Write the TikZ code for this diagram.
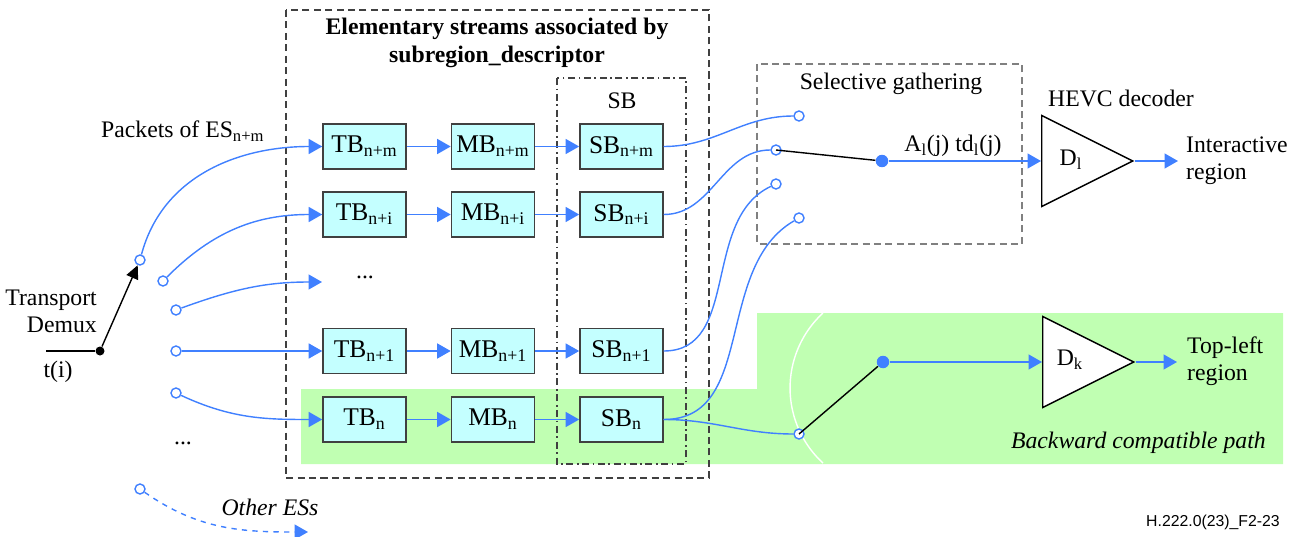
\documentclass[tikz,border=0pt]{standalone}
\usepackage{fontspec}
\setmainfont{Liberation Serif}
\newfontfamily\figfont{Liberation Sans}
\usetikzlibrary{arrows.meta,shapes.geometric,positioning}

\definecolor{esblue}{RGB}{64,128,255}
\definecolor{bufcyan}{RGB}{196,255,255}
\definecolor{pathgreen}{RGB}{192,255,178}
\newcommand{\figsize}{\fontsize{13.5}{15.5}\selectfont}

\tikzset{
  buf/.style={draw=black!75, line width=0.9pt, fill=bufcyan, minimum width=1.66cm,
    minimum height=0.9cm, inner sep=0pt, font=\fontsize{14.5}{16}\selectfont},
  flow/.style={-{Triangle[length=0.27cm,width=0.3cm]}, esblue, line width=0.8pt},
  wire/.style={esblue, line width=0.8pt},
  port/.style={circle, draw=esblue, fill=white, line width=0.8pt, minimum size=0.2cm, inner sep=0pt},
  joint/.style={circle, fill=esblue, minimum size=0.25cm, inner sep=0pt},
  lever/.style={black, line width=0.8pt},
  decoder/.style={isosceles triangle, isosceles triangle stretches, draw, fill=white,
    line width=0.8pt, minimum width=1.82cm, minimum height=1.82cm, inner sep=0pt, anchor=west},
  grpbox/.style={draw=black!75, line width=0.8pt, dash pattern=on 4pt off 2.5pt},
  sbbox/.style={draw=black!75, line width=0.8pt, dash pattern=on 4pt off 2pt on 1pt off 2pt},
  selbox/.style={draw=black!50, line width=0.8pt, dash pattern=on 4pt off 2.5pt}
}

\begin{document}
\begin{tikzpicture}[%
    x=0.02cm, y=0.02cm,
    >={Triangle[length=0.27cm,width=0.3cm]},
    node distance=2.57cm,
    on grid,
    font=\figsize
  ]
  \useasboundingbox (0,0) rectangle (1295,-537);

  % backward compatible path
  \fill[pathgreen] (301,-389) -- (757,-389) -- (757,-313) -- (1283,-313)
    -- (1283,-464) -- (301,-464) -- cycle;
  \draw[white, line width=0.8pt] (823,-313) arc[start angle=132.6, end angle=227.4, radius=2.04cm];

  % groups
  \draw[grpbox] (286,-10) rectangle (709,-478);
  \draw[sbbox] (557,-78) rectangle (686,-464);
  \draw[selbox] (757,-64) rectangle (1022,-244);
  \node[font=\bfseries\figsize, align=center] (title) at (497,-43)
    {Elementary streams associated by\\subregion\_descriptor};
  \node (sblabel) at (622,-101) {SB};
  \node (gather) at (891,-84) {Selective gathering};

  % buffers
  \node[buf] (TBm) at (364.5,-146.5) {TB\textsubscript{n+m}};
  \node[buf] (MBm) [right=of TBm] {MB\textsubscript{n+m}};
  \node[buf] (SBm) [right=of MBm] {SB\textsubscript{n+m}};
  \node[buf] (TBi) at (364.5,-214.5) {TB\textsubscript{n+i}};
  \node[buf] (MBi) [right=of TBi] {MB\textsubscript{n+i}};
  \node[buf] (SBi) [right=of MBi] {SB\textsubscript{n+i}};
  \node (rowdots) at (365,-277) {...};
  \node[buf] (TB1) at (364.5,-351) {TB\textsubscript{n+1}};
  \node[buf] (MB1) [right=of TB1] {MB\textsubscript{n+1}};
  \node[buf] (SB1) [right=of MB1] {SB\textsubscript{n+1}};
  \node[buf] (TBn) at (364.5,-419.5) {TB\textsubscript{n}};
  \node[buf] (MBn) [right=of TBn] {MB\textsubscript{n}};
  \node[buf] (SBn) [right=of MBn] {SB\textsubscript{n}};

  \path[flow] (TBm) edge (MBm) (MBm) edge (SBm);
  \path[flow] (TBi) edge (MBi) (MBi) edge (SBi);
  \path[flow] (TB1) edge (MB1) (MB1) edge (SB1);
  \path[flow] (TBn) edge (MBn) (MBn) edge (SBn);

  % transport demux
  \coordinate (tin) at (46,-351);
  \node[circle, fill=black, minimum size=0.18cm, inner sep=0pt] (d0) at (100,-351) {};
  \node[anchor=east, align=right] (demux) at (103,-311) {Transport\\Demux};
  \node (ti) at (58,-372) {t(i)};
  \node[anchor=west] (pkts) at (95,-131) {Packets of ES\textsubscript{n+m}};

  \node[port] (o1) at (140,-260) {};
  \node[port] (o2) at (163,-281) {};
  \node[port] (o3) at (176,-310) {};
  \node[port] (o4) at (176,-351) {};
  \node[port] (o5) at (176,-393) {};
  \node (esdots) at (183,-443) {...};
  \node[port] (o6) at (140,-489) {};
  \coordinate (e3) at (322,-282);
  \coordinate (e6) at (308,-532);
  \node[font=\itshape\figsize] (others) at (270,-507) {Other ESs};

  \draw[lever] (tin) -- (d0);
  \path[lever, -{Triangle[length=0.27cm,width=0.25cm]}] (d0) edge (o1);

  \path[flow] (o1) edge[out=75, in=180] (TBm);
  \path[flow] (o2) edge[out=45, in=180] (TBi);
  \path[flow] (o3) edge[out=20, in=180] (e3);
  \path[flow] (o4) edge (TB1);
  \path[flow] (o5) edge[out=-25, in=180] (TBn);
  \path[flow, dashed] (o6) edge[out=-35, in=180] (e6);

  % selective gathering
  \node[port] (c1) at (799,-116) {};
  \node[port] (c2) at (776,-150) {};
  \node[port] (c3) at (776,-184) {};
  \node[port] (c4) at (799,-218) {};
  \node[port] (cb) at (799,-434) {};
  \node[joint] (g1) at (882,-161) {};
  \node[joint] (g2) at (883,-362) {};

  \path[wire] (SBm.east) edge[out=0, in=180] (c1);
  \path[wire] (SBi.east) edge[out=0, in=180] (c2);
  \path[wire] (SB1.east) edge[out=0, in=205] (c3);
  \path[wire] (SBn.east) edge[out=0, in=210] (c4);
  \path[wire] (SBn.east) edge[out=0, in=180] (cb);

  \draw[lever] (g1) -- (c2.center);
  \draw[lever] (g2) -- (cb.center);

  % decoders
  \node[decoder] (Dl) at (1041,-161) {};
  \node (Dltxt) at (1071,-160) {D\textsubscript{l}};
  \node (hevc) at (1121,-98) {HEVC decoder};
  \node[decoder] (Dk) at (1042,-362) {};
  \node (Dktxt) at (1070,-360) {D\textsubscript{k}};
  \coordinate (outl) at (1178,-161);
  \coordinate (outk) at (1177,-362);

  \path[flow] (g1) edge (Dl.west);
  \node (sel) at (953,-146) {A\textsubscript{l}(j) td\textsubscript{l}(j)};
  \path[flow] (g2) edge (Dk.west);
  \path[flow] (Dl.apex) edge (outl);
  \path[flow] (Dk.apex) edge (outk);

  \node[anchor=west, align=left] (inter) at (1180,-161) {Interactive\\region};
  \node[anchor=west, align=left] (topleft) at (1181,-361) {Top-left\\region};
  \node[font=\itshape\figsize, anchor=east] (bcp) at (1272,-443) {Backward compatible path};
  \node[font=\figfont\fontsize{9}{10}\selectfont, anchor=east] (figid) at (1286,-522)
    {H.222.0(23)\_F2-23};

\end{tikzpicture}
\end{document}
